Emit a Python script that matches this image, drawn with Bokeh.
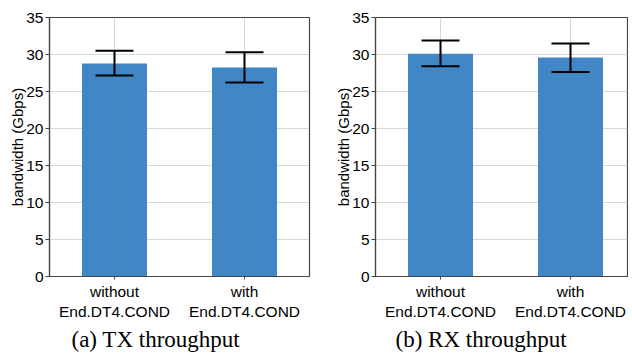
from bokeh.plotting import figure
from bokeh.models import Range1d, FixedTicker, Whisker, ColumnDataSource, TeeHead
from bokeh.layouts import row
from bokeh.embed import file_html
from bokeh.resources import INLINE

categories = ["without\nEnd.DT4.COND", "with\nEnd.DT4.COND"]
tx_mean = [28.8, 28.25]
tx_low = [27.15, 26.2]
tx_high = [30.5, 30.3]
rx_mean = [30.1, 29.6]
rx_low = [28.4, 27.65]
rx_high = [31.9, 31.5]
y_ticks = [0, 5, 10, 15, 20, 25, 30, 35]
captions = ["(a) TX throughput", "(b) RX throughput"]

BAR = "#4287c5"
SANS = "Liberation Sans"


def make(mean, low, high, caption, left_border, right_border, fw, title_off):
    xs = [i + 0.5 for i in range(len(categories))]
    p = figure(frame_width=fw, frame_height=259, output_backend="svg", toolbar_location=None,
               x_range=Range1d(0, fw / 130), y_range=Range1d(0, 35),
               min_border_left=left_border, min_border_right=right_border,
               min_border_top=17, min_border_bottom=60,
               title=caption, title_location="below")
    src = ColumnDataSource(dict(x=xs, top=mean, lo=low, hi=high))
    p.vbar(x="x", top="top", width=0.5, source=src, color=BAR, line_color=None)
    w = Whisker(base="x", lower="lo", upper="hi", source=src, line_width=2, line_color="black",
                level="overlay",
                upper_head=TeeHead(size=38, line_width=2, line_color="black"),
                lower_head=TeeHead(size=38, line_width=2, line_color="black"))
    p.add_layout(w)

    p.title.text_font = "Liberation Serif"
    p.title.text_font_size = "23px"
    p.title.text_font_style = "normal"
    p.title.text_color = "black"
    p.title.align = "left"
    p.title.offset = title_off
    p.title.standoff = 4

    p.outline_line_color = "#444444"
    p.outline_line_width = 1.2

    p.xaxis.ticker = FixedTicker(ticks=xs)
    p.xaxis.major_label_overrides = {x: c for x, c in zip(xs, categories)}
    p.yaxis.ticker = FixedTicker(ticks=y_ticks)
    p.yaxis.axis_label = "bandwidth (Gbps)"
    for ax in (p.xaxis, p.yaxis):
        ax.axis_line_color = "#444444"
        ax.axis_line_width = 1.2
        ax.major_tick_line_color = "#444444"
        ax.major_tick_in = 0
        ax.major_tick_out = 4
        ax.minor_tick_line_color = None
        ax.major_label_text_font = SANS
        ax.major_label_text_font_size = "15.5px"
        ax.major_label_text_color = "black"
        ax.axis_label_text_font = SANS
        ax.axis_label_text_font_size = "15px"
        ax.axis_label_text_font_style = "normal"
        ax.axis_label_text_color = "black"
    p.xaxis.major_tick_out = 3
    p.xaxis.major_label_standoff = 3
    p.yaxis.major_label_standoff = 2
    p.yaxis.axis_label_standoff = -3

    for g in (p.xgrid, p.ygrid):
        g.grid_line_color = "#b0b0b0"
        g.grid_line_dash = "1 1"
        g.grid_line_width = 1
    return p


p1 = make(tx_mean, tx_low, tx_high, captions[0], 49, 9, 260, 22)
p2 = make(rx_mean, rx_low, rx_high, captions[1], 57, 0, 253, 20)
layout = row(p1, p2)
open("out.html", "w").write(file_html(layout, INLINE))
